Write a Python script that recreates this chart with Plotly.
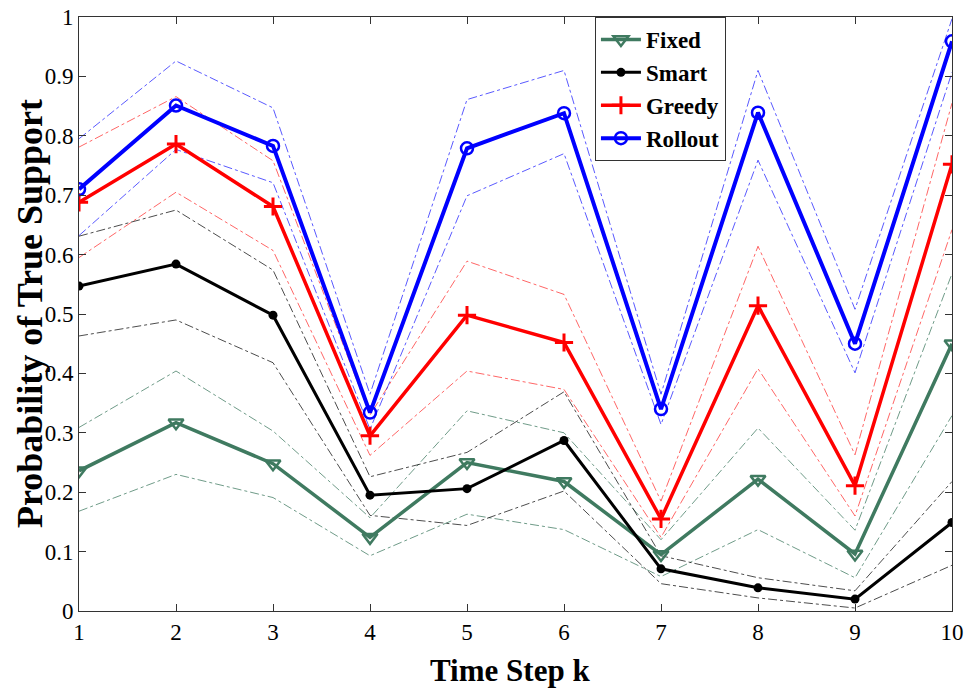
import plotly.graph_objects as go

steps = [1, 2, 3, 4, 5, 6, 7, 8, 9, 10]

fixed = [0.236, 0.317, 0.248, 0.124, 0.250, 0.218, 0.095, 0.222, 0.096, 0.450]
fixed_hi = [0.309, 0.404, 0.303, 0.157, 0.337, 0.300, 0.120, 0.308, 0.136, 0.568]
fixed_lo = [0.168, 0.230, 0.191, 0.093, 0.163, 0.137, 0.058, 0.137, 0.056, 0.329]

smart = [0.547, 0.584, 0.498, 0.195, 0.206, 0.287, 0.071, 0.039, 0.020, 0.149]
smart_hi = [0.631, 0.675, 0.574, 0.226, 0.267, 0.369, 0.093, 0.056, 0.034, 0.218]
smart_lo = [0.463, 0.490, 0.418, 0.161, 0.144, 0.202, 0.046, 0.022, 0.005, 0.077]

greedy = [0.688, 0.786, 0.681, 0.295, 0.498, 0.452, 0.155, 0.514, 0.211, 0.752]
greedy_hi = [0.781, 0.866, 0.758, 0.330, 0.589, 0.533, 0.185, 0.614, 0.263, 0.855]
greedy_lo = [0.595, 0.705, 0.607, 0.262, 0.404, 0.373, 0.124, 0.408, 0.160, 0.642]

rollout = [0.710, 0.851, 0.783, 0.334, 0.779, 0.838, 0.340, 0.839, 0.450, 0.959]
rollout_hi = [0.795, 0.926, 0.847, 0.365, 0.861, 0.910, 0.365, 0.910, 0.508, 0.997]
rollout_lo = [0.632, 0.777, 0.721, 0.306, 0.699, 0.770, 0.314, 0.759, 0.401, 0.907]

x_ticks = [1, 2, 3, 4, 5, 6, 7, 8, 9, 10]
y_ticks = [0, 0.1, 0.2, 0.3, 0.4, 0.5, 0.6, 0.7, 0.8, 0.9, 1]
y_tick_text = ["0", "0.1", "0.2", "0.3", "0.4", "0.5", "0.6", "0.7", "0.8", "0.9", "1"]

x_title = "Time Step k"
y_title = "Probability of True Support"

series = [
    ("Fixed", fixed, fixed_hi, fixed_lo, "#3f7a60", "rgba(63,122,96,0.75)",
     dict(symbol="triangle-down-open", size=13, line=dict(width=2.5)), 3.5),
    ("Smart", smart, smart_hi, smart_lo, "#000000", "rgba(0,0,0,0.7)",
     dict(symbol="circle", size=9), 3),
    ("Greedy", greedy, greedy_hi, greedy_lo, "#ff0000", "rgba(255,0,0,0.6)",
     dict(symbol="cross-thin-open", size=13, line=dict(width=3)), 3.5),
    ("Rollout", rollout, rollout_hi, rollout_lo, "#0000ff", "rgba(0,0,255,0.65)",
     dict(symbol="circle-open", size=12, line=dict(width=2.5)), 4),
]

fig = go.Figure()

for name, mid, hi, lo, col, bandcol, mk, lw in series:
    for band in (hi, lo):
        fig.add_trace(go.Scatter(
            x=steps, y=band, mode="lines", showlegend=False, hoverinfo="skip",
            line=dict(color=bandcol, width=1, dash="dashdot"),
        ))

for name, mid, hi, lo, col, bandcol, mk, lw in series:
    mk = dict(mk)
    mk["color"] = col
    if "line" in mk:
        mk["line"] = dict(mk["line"], color=col)
    fig.add_trace(go.Scatter(
        x=steps, y=mid, mode="lines+markers", name=name,
        line=dict(color=col, width=lw), marker=mk,
    ))

font_family = "'Liberation Serif', 'Times New Roman', serif"

fig.update_layout(
    width=966, height=692,
    margin=dict(l=79, r=14, t=17, b=81, autoexpand=False),
    paper_bgcolor="white", plot_bgcolor="white",
    font=dict(family=font_family, size=22, color="black"),
    showlegend=True,
    legend=dict(
        x=0.591, y=1.0, xanchor="left", yanchor="top",
        bordercolor="#333333", borderwidth=1, bgcolor="white",
        font=dict(family=font_family, size=23, color="black", weight="bold"),
        tracegroupgap=0, itemwidth=40,
    ),
    xaxis=dict(
        range=[1, 10], tickmode="array", tickvals=x_ticks,
        ticks="inside", ticklen=7, tickcolor="#333333", mirror="ticks",
        showline=True, linecolor="#333333", linewidth=1, showgrid=False, zeroline=False,
        tickfont=dict(family=font_family, size=23), automargin=False,
    ),
    yaxis=dict(
        range=[0, 1], tickmode="array", tickvals=y_ticks, ticktext=y_tick_text,
        ticks="inside", ticklen=7, tickcolor="#333333", mirror="ticks",
        showline=True, linecolor="#333333", linewidth=1, showgrid=False, zeroline=False,
        tickfont=dict(family=font_family, size=23), automargin=False,
    ),
    annotations=[
        dict(text=x_title, xref="paper", yref="paper", x=0.494, y=-0.101,
             xanchor="center", yanchor="middle", showarrow=False,
             font=dict(family=font_family, size=31, weight="bold", color="black")),
        dict(text=y_title, xref="paper", yref="paper", x=-0.0561, y=0.5,
             xanchor="center", yanchor="middle", showarrow=False, textangle=-90,
             font=dict(family=font_family, size=36, weight="bold", color="black")),
    ],
)

fig.write_html("out.html")
